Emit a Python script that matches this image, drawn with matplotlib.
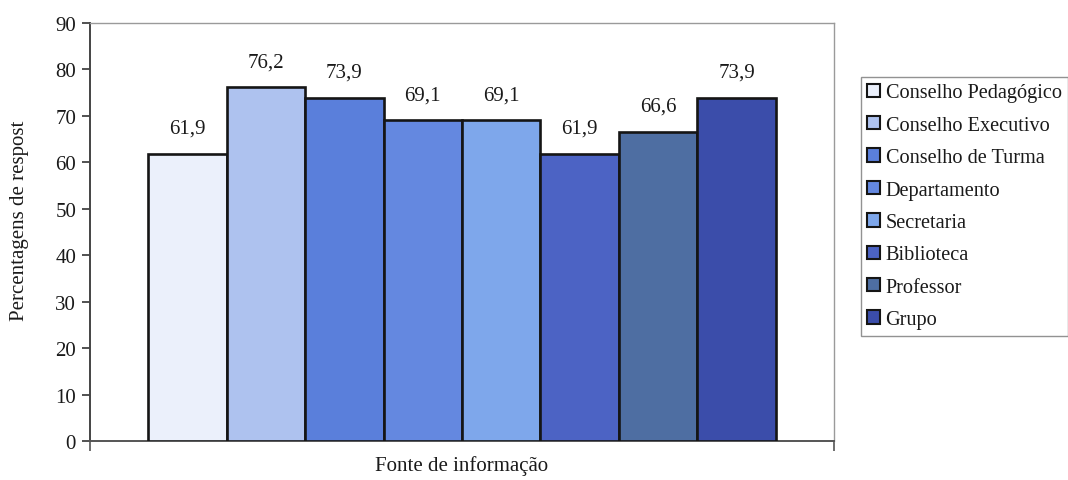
import matplotlib
matplotlib.use("Agg")
import matplotlib.pyplot as plt
from matplotlib.patches import Patch

plt.rcParams['font.family'] = ['Liberation Serif', 'DejaVu Serif']

# Data
categories = ["Conselho Pedagógico", "Conselho Executivo", "Conselho de Turma",
              "Departamento", "Secretaria", "Biblioteca", "Professor", "Grupo"]
values = [61.9, 76.2, 73.9, 69.1, 69.1, 61.9, 66.6, 73.9]
value_labels = ["61,9", "76,2", "73,9", "69,1", "69,1", "61,9", "66,6", "73,9"]
y_ticks = [0, 10, 20, 30, 40, 50, 60, 70, 80, 90]

colors = ["#EBF0FB", "#AEC2EF", "#5A7FDB", "#6488E0", "#7EA7EB",
          "#4C63C4", "#4E6EA2", "#3B4DAA"]

W, H = 1068, 481
fig = plt.figure(figsize=(W / 100, H / 100), dpi=100)
ax = fig.add_axes([90 / W, (H - 442) / H, (834 - 90) / W, (442 - 24) / H])

n = len(values)
bar_w = 0.8435 / n
start = -bar_w * n / 2 + bar_w / 2
xs = [start + i * bar_w for i in range(n)]

for x, v, c, lab, name in zip(xs, values, colors, value_labels, categories):
    ax.bar(x, v, width=bar_w, color=c, edgecolor="#151515", linewidth=1.9,
           label=name, zorder=3)
    ax.annotate(lab, (x, v), xytext=(0, 15), textcoords="offset points",
                ha="center", va="baseline", fontsize=15, color="#1a1a1a")

ax.set_xlim(-0.5, 0.5)
ax.set_ylim(0, 90)
ax.set_yticks(y_ticks)
ax.set_yticklabels([str(t) for t in y_ticks], fontsize=15, color="#1a1a1a")
ax.set_xticks([-0.5, 0.5])
ax.set_xticklabels([])
ax.tick_params(axis="y", direction="out", length=6, width=1.2, color="#333333", pad=4)
ax.tick_params(axis="x", direction="out", length=7, width=1.2, color="#555555")

for side in ("top", "right"):
    ax.spines[side].set_color("#9a9a9a")
    ax.spines[side].set_linewidth(1.0)
ax.spines["left"].set_color("#444444")
ax.spines["left"].set_linewidth(1.4)
ax.spines["bottom"].set_color("#555555")
ax.spines["bottom"].set_linewidth(1.4)

fig.text(20 / W, 1 - 221 / H, "Percentagens de respost", rotation=90,
         ha="center", va="center", fontsize=15, color="#1a1a1a")
fig.text(462 / W, 1 - 466 / H, "Fonte de informação", ha="center",
         va="center", fontsize=15, color="#1a1a1a")

handles = [Patch(facecolor=c, edgecolor="#151515", linewidth=1.5) for c in colors]
leg = fig.legend(handles, categories, loc="upper left",
                 bbox_to_anchor=(861 / W, 1 - 78 / H), frameon=True,
                 fontsize=14.6, handlelength=0.64, handleheight=0.64,
                 handletextpad=0.25, labelspacing=0.66, borderpad=0.32,
                 borderaxespad=0, fancybox=False)
leg.get_frame().set_edgecolor("#777777")
leg.get_frame().set_linewidth(1.0)
for t in leg.get_texts():
    t.set_color("#1a1a1a")

fig.savefig("out.png", dpi=100)
